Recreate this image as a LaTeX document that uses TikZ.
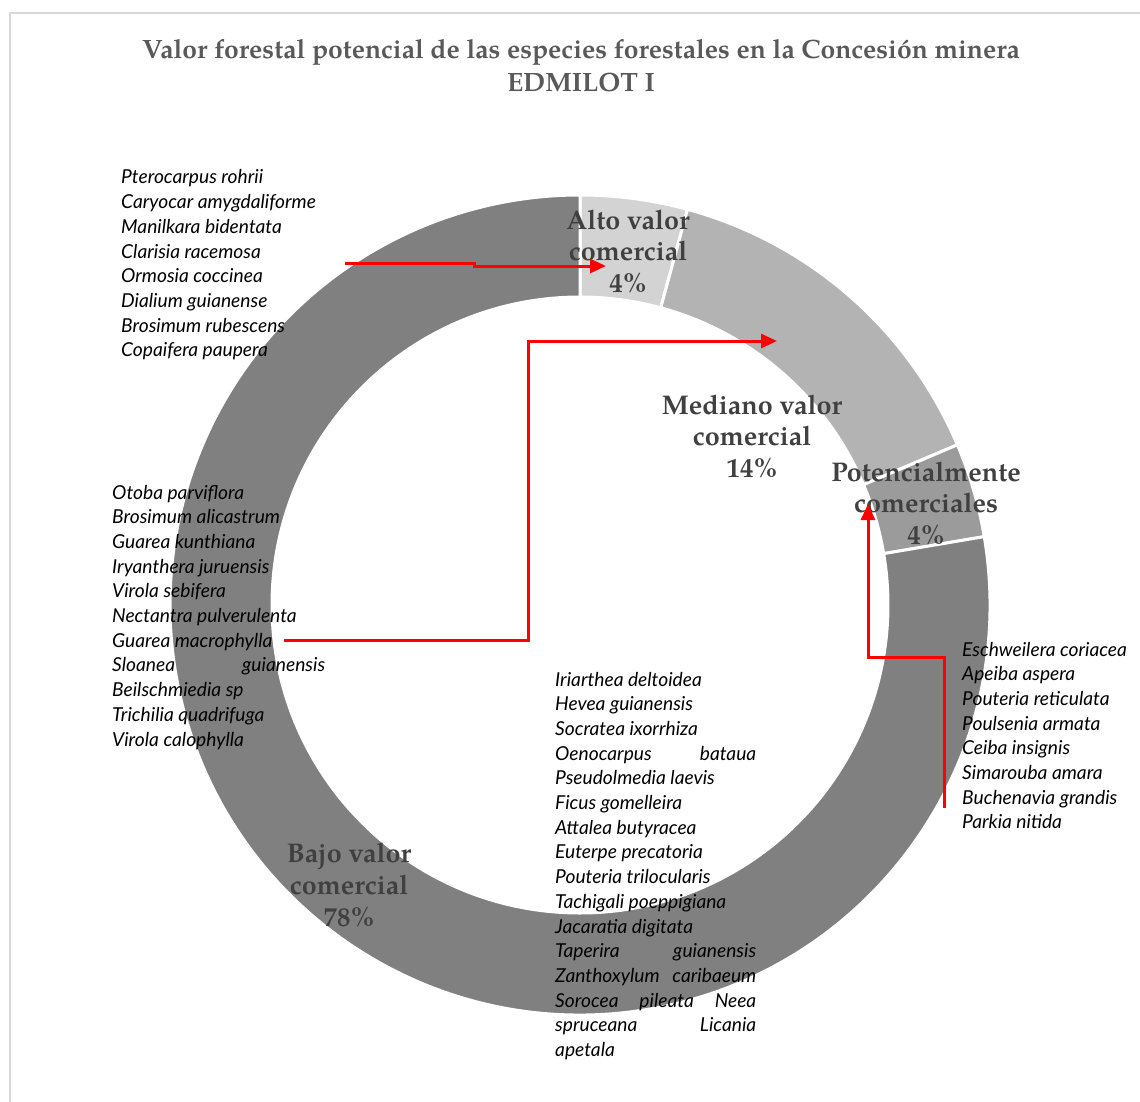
\documentclass[tikz,border=0pt]{standalone}
\usepackage{fontspec}
\usetikzlibrary{arrows.meta}
\newfontfamily\labfont{TeX Gyre Pagella}
\newfontfamily\spfont{Lato}
\definecolor{cAlto}{HTML}{D3D3D3}
\definecolor{cMed}{HTML}{B3B3B3}
\definecolor{cPot}{HTML}{9B9B9B}
\definecolor{cBajo}{HTML}{808080}
\definecolor{cLab}{HTML}{404040}
\definecolor{cTitle}{HTML}{595959}
\definecolor{cFrame}{HTML}{D9D9D9}
\tikzset{
  seg/.style={draw=white, line width=3pt},
  charttitle/.style={align=center, text=cTitle, inner sep=0pt,
    font=\labfont\bfseries\fontsize{26.5}{33}\selectfont},
  seglabel/.style={align=center, text=cLab, inner sep=0pt,
    font=\labfont\bfseries\fontsize{27}{31.5}\selectfont},
  species/.style={anchor=base west, inner sep=0pt, text=black,
    font=\spfont\itshape\fontsize{19.2}{24.7}\selectfont},
  redarrow/.style={draw=red, line width=3pt, -{Triangle[length=16pt,width=14pt]}}
}
\newcommand{\donutseg}[3]{%
  \filldraw[seg, fill=#3] (#1:410) arc[start angle=#1, end angle=#2, radius=410]
    -- (#2:308) arc[start angle=#2, end angle=#1, radius=308] -- cycle;}
\begin{document}
\begin{tikzpicture}[x=1pt,y=-1pt]
\useasboundingbox (0,0) rectangle (1140,1102);
\fill[white] (0,0) rectangle (1140,1102);
\draw[cFrame, line width=2pt] (10,1102) -- (10,13) -- (1140,13);

\node[charttitle] (title) at (581,65.5)
  {Valor forestal potencial de las especies forestales en la Concesión minera\\EDMILOT I};

\begin{scope}[shift={(580,605)}]
  \donutseg{-90}{-74.8}{cAlto}
  \donutseg{-74.8}{-23}{cMed}
  \donutseg{-23}{-9.6}{cPot}
  \donutseg{-9.6}{270}{cBajo}
\end{scope}

\node[seglabel] (alto) at (628,251) {Alto valor\\comercial\\4\%};
\node[seglabel] (mediano) at (752,436) {Mediano valor\\comercial\\14\%};
\node[seglabel] (potencial) at (926,503) {Potencialmente\\comerciales\\4\%};
\node[seglabel] (bajo) at (349,885) {Bajo valor\\comercial\\78\%};

\node[species] (sp1) at (121,184) {\parbox[t]{260pt}{\raggedright
Pterocarpus rohrii\\
Caryocar amygdaliforme\\
Manilkara bidentata\\
Clarisia racemosa\\
Ormosia coccinea\\
Dialium guianense\\
Brosimum rubescens\\
Copaifera paupera}};

\node[species] (sp2) at (112,499) {\parbox[t]{260pt}{\raggedright
Otoba parviflora\\
Brosimum alicastrum\\
Guarea kunthiana\\
Iryanthera juruensis\\
Virola sebifera\\
Nectantra pulverulenta\\
Guarea macrophylla\\
\makebox[213pt][s]{Sloanea guianensis}\\
Beilschmiedia sp\\
Trichilia quadrifuga\\
Virola calophylla}};

\node[species] (sp3) at (962,656) {\parbox[t]{200pt}{\raggedright
Eschweilera coriacea\\
Apeiba aspera\\
Pouteria reticulata\\
Poulsenia armata\\
Ceiba insignis\\
Simarouba amara\\
Buchenavia grandis\\
Parkia nitida}};

\node[species] (sp4) at (555,686) {\parbox[t]{240pt}{\raggedright
Iriarthea deltoidea\\
Hevea guianensis\\
Socratea ixorrhiza\\
\makebox[201pt][s]{Oenocarpus bataua}\\
Pseudolmedia laevis\\
Ficus gomelleira\\
Attalea butyracea\\
Euterpe precatoria\\
Pouteria trilocularis\\
Tachigali poeppigiana\\
Jacaratia digitata\\
\makebox[201pt][s]{Taperira guianensis}\\
\makebox[201pt][s]{Zanthoxylum caribaeum}\\
\makebox[201pt][s]{Sorocea pileata Neea}\\
\makebox[201pt][s]{spruceana Licania}\\
apetala}};

\coordinate (a1s) at (345,263);
\coordinate (a1e) at (606,266);
\coordinate (a2s) at (284,640);
\coordinate (a2e) at (777,341);
\coordinate (a3s) at (944,808);
\coordinate (a3e) at (868,504);
\draw[redarrow] (a1s) -- (474,263) -- (474,266) -- (a1e);
\draw[redarrow] (a2s) -- (528,640) -- (528,341) -- (a2e);
\draw[redarrow] (a3s) -- (944,657) -- (868,657) -- (a3e);
\end{tikzpicture}
\end{document}
